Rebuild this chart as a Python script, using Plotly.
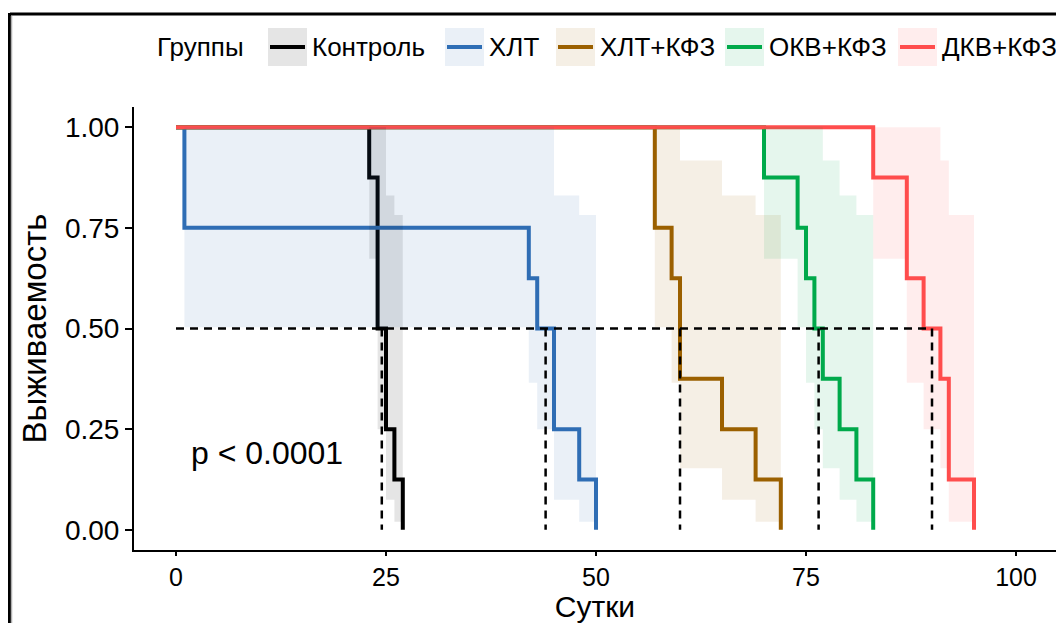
import plotly.graph_objects as go

# ---------------- data ----------------
groups = ["Контроль", "ХЛТ", "ХЛТ+КФЗ", "ОКВ+КФЗ", "ДКВ+КФЗ"]
colors = ["#000000", "#2F6EB5", "#9B6000", "#00AA4B", "#FF4D4D"]
fills = ["rgba(0,0,0,0.1)", "rgba(47,110,181,0.1)", "rgba(155,96,0,0.1)",
         "rgba(0,170,75,0.1)", "rgba(255,77,77,0.1)"]

# event times and survival after each event
ctrl_t = [23, 24, 25, 26, 27]
ctrl_s = [0.875, 0.5, 0.25, 0.125, 0.0]
ctrl_lo = [0.673, 0.250, 0.075, 0.020]
ctrl_hi = [1.0, 1.0, 0.830, 0.782]

hlt_t = [1, 42, 43, 45, 48, 50]
hlt_s = [0.75, 0.625, 0.5, 0.25, 0.125, 0.0]
hlt_lo = [0.503, 0.365, 0.250, 0.075, 0.020]
hlt_hi = [1.0, 1.0, 1.0, 0.830, 0.782]

hltk_t = [57, 59, 60, 65, 69, 72]
hltk_s = [0.75, 0.625, 0.375, 0.25, 0.125, 0.0]
hltk_lo = [0.503, 0.365, 0.153, 0.075, 0.020]
hltk_hi = [1.0, 1.0, 0.917, 0.830, 0.782]

okv_t = [70, 74, 75, 76, 77, 79, 81, 83]
okv_s = [0.875, 0.75, 0.625, 0.5, 0.375, 0.25, 0.125, 0.0]
okv_lo = [0.673, 0.503, 0.365, 0.250, 0.153, 0.075, 0.020]
okv_hi = [1.0, 1.0, 1.0, 1.0, 0.917, 0.830, 0.782]

dkv_t = [83, 87, 89, 91, 92, 95]
dkv_s = [0.875, 0.625, 0.5, 0.375, 0.125, 0.0]
dkv_lo = [0.673, 0.365, 0.250, 0.153, 0.020]
dkv_hi = [1.0, 1.0, 1.0, 0.917, 0.782]

medians = [24.5, 44, 60, 76.5, 90]
x_ticks = [0, 25, 50, 75, 100]
y_ticks = [0.00, 0.25, 0.50, 0.75, 1.00]
y_tick_text = ["0.00", "0.25", "0.50", "0.75", "1.00"]
p_text = "p < 0.0001"

series = [
    (ctrl_t, ctrl_s, ctrl_lo, ctrl_hi),
    (hlt_t, hlt_s, hlt_lo, hlt_hi),
    (hltk_t, hltk_s, hltk_lo, hltk_hi),
    (okv_t, okv_s, okv_lo, okv_hi),
    (dkv_t, dkv_s, dkv_lo, dkv_hi),
]

FONT = "Liberation Sans, Arial, sans-serif"
LEG_FONT = "Liberation Sans, Arial, sans-serif"

fig = go.Figure()

# survival step lines
for name, col, (t, s, lo, hi) in zip(groups, colors, series):
    fig.add_trace(go.Scatter(
        x=[0] + t, y=[1.0] + s, mode="lines", line_shape="hv",
        line=dict(color=col, width=4), name=name, showlegend=False,
        hoverinfo="x+y+name"))

# confidence ribbons (step)
for name, fc, (t, s, lo, hi) in zip(groups, fills, series):
    xs, ys = [], []
    for i in range(len(hi)):
        xs += [t[i], t[i + 1]]
        ys += [hi[i], hi[i]]
    for i in reversed(range(len(lo))):
        xs += [t[i + 1], t[i]]
        ys += [lo[i], lo[i]]
    fig.add_trace(go.Scatter(
        x=xs, y=ys, mode="lines", fill="toself", fillcolor=fc,
        line=dict(width=0, color=fc), showlegend=False, hoverinfo="skip"))

# median lines
fig.add_trace(go.Scatter(
    x=[0, max(medians)], y=[0.5, 0.5], mode="lines",
    line=dict(color="black", width=2.5, dash="8px,6px"),
    showlegend=False, hoverinfo="skip"))
for m in medians:
    fig.add_trace(go.Scatter(
        x=[m, m], y=[0.5, 0.0], mode="lines",
        line=dict(color="black", width=2.5, dash="8px,6px"),
        showlegend=False, hoverinfo="skip"))

# p-value
fig.add_annotation(x=1.5, y=0.19, xref="x", yref="y", text=p_text,
                   showarrow=False, xanchor="left", yanchor="middle",
                   font=dict(family=FONT, size=32, color="black"))

# ---------------- manual legend (ggplot style keys) ----------------
L, T, W, H = 134, 107, 922, 443
def px(x):
    return (x - L) / W
def py(y):
    return (T + H - y) / H

leg_y = 47
fig.add_annotation(x=px(155), y=py(leg_y), xref="paper", yref="paper",
                   text="Группы", showarrow=False, xanchor="left",
                   yanchor="middle", font=dict(family=LEG_FONT, size=26, color="black"))
key_x = [268, 445, 556, 725, 898]
for kx, name, col, fc in zip(key_x, groups, colors, fills):
    fig.add_shape(type="rect", xref="paper", yref="paper",
                  x0=px(kx), x1=px(kx + 39), y0=py(leg_y - 19), y1=py(leg_y + 19),
                  fillcolor=fc, line=dict(width=0), layer="above")
    fig.add_shape(type="line", xref="paper", yref="paper",
                  x0=px(kx + 2), x1=px(kx + 37), y0=py(leg_y), y1=py(leg_y),
                  line=dict(color=col, width=4), layer="above")
    fig.add_annotation(x=px(kx + 42), y=py(leg_y), xref="paper", yref="paper",
                       text=name, showarrow=False, xanchor="left", yanchor="middle",
                       font=dict(family=LEG_FONT, size=26, color="black"))

# outer frame (top and left edges visible in the reference)
fig.add_shape(type="line", xref="paper", yref="paper",
              x0=px(10), x1=px(1060), y0=py(14), y1=py(14),
              line=dict(color="black", width=3))
fig.add_shape(type="line", xref="paper", yref="paper",
              x0=px(9.5), x1=px(9.5), y0=py(13), y1=py(630),
              line=dict(color="black", width=3))
fig.add_shape(type="line", xref="paper", yref="paper",
              x0=px(11.5), x1=px(11.5), y0=py(16), y1=py(630),
              line=dict(color="#b0b0b0", width=1.5))

fig.update_layout(
    width=1056, height=623,
    margin=dict(l=L, r=0, t=T, b=623 - T - H, pad=0),
    plot_bgcolor="white", paper_bgcolor="white",
    font=dict(family=FONT, color="black"),
    showlegend=False,
    xaxis=dict(range=[-5, 104.76], tickmode="array", tickvals=x_ticks,
               showgrid=False, zeroline=False, showline=True, linecolor="black",
               linewidth=2, ticks="outside", ticklen=4, tickwidth=2,
               tickcolor="black", tickfont=dict(size=25, family=FONT),
               title=dict(text="Сутки", font=dict(size=30, family=FONT), standoff=5)),
    yaxis=dict(range=[-0.05, 1.05], tickmode="array", tickvals=y_ticks,
               ticktext=y_tick_text,
               showgrid=False, zeroline=False, showline=True, linecolor="black",
               linewidth=2, ticks="outside", ticklen=7, tickwidth=2,
               tickcolor="black", tickfont=dict(size=28, family=FONT),
               title=dict(text="Выживаемость", font=dict(size=33, family=FONT), standoff=8)),
)

fig.write_html("out.html", post_script="document.body.style.margin='0';",
               config={"displayModeBar": False})
